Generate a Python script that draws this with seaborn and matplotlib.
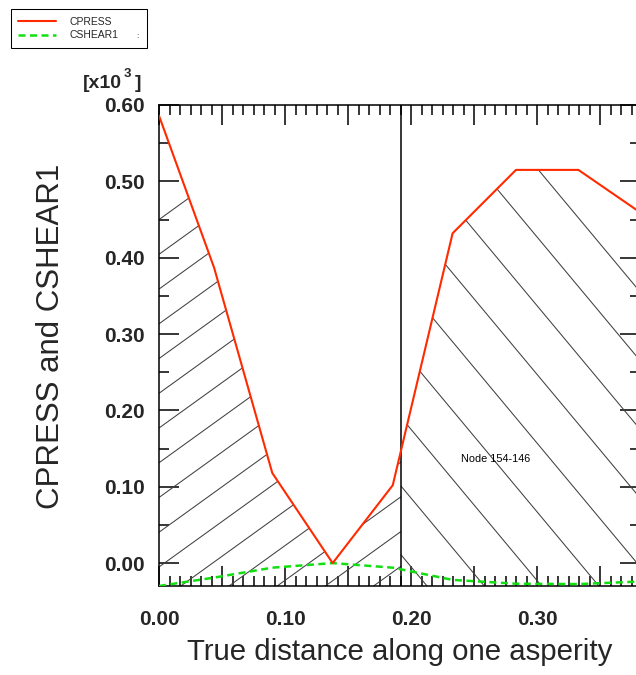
import numpy as np
import matplotlib
matplotlib.use("Agg")
import matplotlib.pyplot as plt
from matplotlib.ticker import MultipleLocator, FuncFormatter
from matplotlib.collections import LineCollection
import seaborn as sns

# Contact results at the nodes along one asperity (values in units of 10^3)
distance = [0.0, 0.0437, 0.0899, 0.1378, 0.1855, 0.2330, 0.2833, 0.3328, 0.3830]
cpress = [0.586, 0.387, 0.118, 0.000, 0.102, 0.432, 0.515, 0.515, 0.458]
cshear1 = [-0.030, -0.019, -0.006, 0.000, -0.006, -0.022, -0.027, -0.0275, -0.024]

series_names = ["CPRESS", "CSHEAR1"]
x_label = "True distance along one asperity"
y_label = "CPRESS and CSHEAR1"
node_label = "Node 154-146"
node_boundary = 0.192          # element boundary marked by the vertical line
node_label_pos = (0.2394, 0.1363)

x_range = (0.0, 0.3817)
y_range = (-0.03, 0.60)

sns.set_theme(style="ticks")
plt.rcParams["font.family"] = ["Liberation Sans", "DejaVu Sans"]

W, H, DPI = 636, 675, 100
fig = plt.figure(figsize=(W / DPI, H / DPI), dpi=DPI)
ax = fig.add_axes([159 / W, 1 - 586 / H, 481 / W, 481 / H])
ax.set_xlim(*x_range)
ax.set_ylim(*y_range)

red = "#ff2a00"
green = "#10e010"

# shaded regions under the pressure curve, split at the element boundary
region = ax.fill_between(distance, cpress, y_range[0], facecolor="none",
                         edgecolor="none", linewidth=0)
clip = region.get_paths()[0]


def hatch(x0, x1, slope, start, step, lo, hi):
    ks = np.arange(np.ceil((lo - start) / step), np.floor((hi - start) / step) + 1)
    return [[(x0, b), (x1, b + slope * (x1 - x0))] for b in start + ks * step]


left_lines = hatch(x_range[0], node_boundary, 1.19, 0.2224, 0.0455, -0.27, 0.46)
right_lines = hatch(node_boundary, x_range[1], -1.98, 0.461, 0.09, -0.03, 0.76)
for segs in (left_lines, right_lines):
    lc = LineCollection(segs, colors="0.25", linewidths=0.75, zorder=1)
    ax.add_collection(lc)
    lc.set_clip_path(clip, ax.transData)

ax.axvline(node_boundary, color="black", linewidth=1.1, zorder=2)

sns.lineplot(x=distance, y=cpress, ax=ax, color=red, linewidth=1.5,
             label=series_names[0], zorder=4, sort=False)
sns.lineplot(x=distance, y=cshear1, ax=ax, color=green, linewidth=1.8,
             label=series_names[1], zorder=3, sort=False)
ax.lines[-1].set_linestyle((0, (2.8, 1.8)))

ax.text(*node_label_pos, node_label, fontsize=7.8, ha="left", va="center",
        color="black")

# axes frame and ticks
for s in ax.spines.values():
    s.set_linewidth(1.1)
    s.set_color("black")
ax.xaxis.set_major_locator(MultipleLocator(0.05))
ax.xaxis.set_minor_locator(MultipleLocator(0.05 / 6))
ax.yaxis.set_major_locator(MultipleLocator(0.1))
ax.yaxis.set_minor_locator(MultipleLocator(0.05))
ax.xaxis.set_major_formatter(FuncFormatter(
    lambda v, p: f"{v:.2f}" if abs(round(v / 0.1) * 0.1 - v) < 1e-6 else ""))
ax.yaxis.set_major_formatter(FuncFormatter(lambda v, p: f"{v:.2f}"))
ax.tick_params(which="both", direction="in", top=True, right=True,
               color="black", width=1.1)
ax.tick_params(which="major", length=14.4)
ax.tick_params(which="minor", length=7.2)
ax.tick_params(axis="x", which="major", pad=17, labelsize=15)
ax.tick_params(axis="y", which="major", pad=10, labelsize=15)
for lab in ax.get_xticklabels() + ax.get_yticklabels():
    lab.set_fontweight("bold")

ax.set_xlabel(x_label, fontsize=21.2, va="center")
ax.xaxis.set_label_coords(0.501, -0.137)
ax.set_ylabel(y_label, fontsize=22.5, va="center")
ax.yaxis.set_label_coords(-0.2245, 0.52)

# scale factor above the y axis
t1 = fig.text(82.7 / W, 1 - 88 / H, "[x10", fontsize=14, fontweight="bold",
              ha="left", va="baseline")
t2 = ax.annotate("3", xy=(1, 1), xycoords=t1, xytext=(1.5, 5),
                 textcoords="offset points", fontsize=9.5, fontweight="bold",
                 ha="left", va="top", annotation_clip=False)
ax.annotate("]", xy=(1, 0), xycoords=t1, xytext=(9.5, 0),
            textcoords="offset points", fontsize=14, fontweight="bold",
            ha="left", va="bottom", annotation_clip=False)

leg = ax.legend(loc="upper left", mode="expand",
                bbox_to_anchor=(10.7 / W, 1 - 48.3 / H, 136 / W, 39.3 / H),
                bbox_transform=fig.transFigure, borderaxespad=0,
                fontsize=7.5, handlelength=3.65, handletextpad=1.3,
                borderpad=0.74, labelspacing=0.36, fancybox=False,
                framealpha=1, edgecolor="black")
leg.get_frame().set_linewidth(0.75)
fig.text(137 / W, 1 - 37 / H, ":", fontsize=6, ha="center", va="center")

fig.savefig("out.png", dpi=DPI)
